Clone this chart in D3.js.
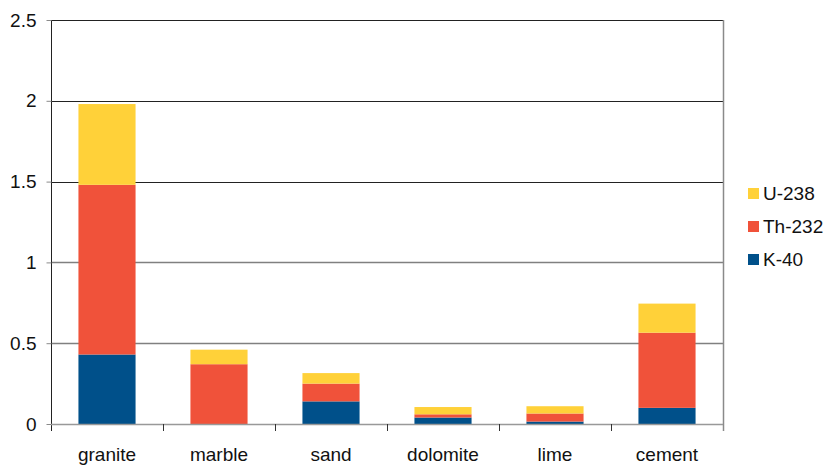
<!DOCTYPE html>
<html>
<head>
<meta charset="utf-8">
<script src="https://cdn.jsdelivr.net/npm/d3@7"></script>
<style>
  html, body { margin: 0; padding: 0; background: #fff; }
  svg { display: block; font-family: "Liberation Sans", Arial, sans-serif; }
</style>
</head>
<body>
<svg id="chart" width="825" height="466"></svg>
<script>
// Radioactivity contributions by building material
const categories = ["granite", "marble", "sand", "dolomite", "lime", "cement"];
const seriesNames = ["K-40", "Th-232", "U-238"];
const k40   = [0.43, 0.00, 0.14, 0.04, 0.015, 0.10];
const th232 = [1.05, 0.37, 0.11, 0.02, 0.05, 0.465];
const u238  = [0.50, 0.09, 0.065, 0.045, 0.045, 0.18];
const yTicks = [0, 0.5, 1, 1.5, 2, 2.5];
const colors = { "K-40": "#00508A", "Th-232": "#F0523A", "U-238": "#FFD139" };

const rows = categories.map((c, i) => ({
  category: c, "K-40": k40[i], "Th-232": th232[i], "U-238": u238[i]
}));

const svg = d3.select("#chart");
const margin = { left: 51, right: 825 - 723, top: 20, bottom: 466 - 424 };
const innerW = 825 - margin.left - margin.right;
const innerH = 466 - margin.top - margin.bottom;
const fontSize = 19;

const x = d3.scaleBand().domain(categories).range([margin.left, margin.left + innerW])
  .paddingInner(0.49).paddingOuter(0.245);
const xOuter = d3.scaleBand().domain(categories).range([margin.left, margin.left + innerW]).padding(0);
const y = d3.scaleLinear().domain([0, 2.5]).range([margin.top + innerH, margin.top]);

// horizontal grid lines
const g = svg.append("g");
g.selectAll("line.grid").data(yTicks.filter(t => t > 0)).join("line")
  .attr("class", "grid")
  .attr("x1", margin.left).attr("x2", margin.left + innerW)
  .attr("y1", d => Math.round(y(d)) + 0.5).attr("y2", d => Math.round(y(d)) + 0.5)
  .attr("stroke", d => d >= 1.5 ? "#222" : "#808080")
  .attr("stroke-width", d => d >= 1.5 ? 1 : 1.6);

// stacked bars
const stack = d3.stack().keys(seriesNames)(rows);
svg.append("g").selectAll("g").data(stack).join("g")
  .attr("fill", d => colors[d.key])
  .selectAll("rect").data(d => d).join("rect")
  .attr("x", d => x(d.data.category))
  .attr("width", x.bandwidth())
  .attr("y", d => y(d[1]))
  .attr("height", d => Math.max(0, y(d[0]) - y(d[1])));

// right border
svg.append("line")
  .attr("x1", margin.left + innerW + 0.5).attr("x2", margin.left + innerW + 0.5)
  .attr("y1", margin.top).attr("y2", margin.top + innerH + 7)
  .attr("stroke", "#8a8a8a").attr("stroke-width", 1.5);

// y axis
const yAxis = d3.axisLeft(y).tickValues(yTicks).tickSize(5).tickPadding(10)
  .tickFormat(d3.format("~g"));
const ya = svg.append("g").attr("transform", `translate(${margin.left + 0.5},0)`).call(yAxis);
ya.select(".domain").attr("stroke", "#222").attr("d", `M0,${margin.top}V${margin.top + innerH + 7}`);
ya.selectAll(".tick line").attr("stroke", "#8a8a8a");
ya.selectAll(".tick text").attr("font-size", fontSize).attr("fill", "#111")
  .attr("font-family", "Liberation Sans, Arial, sans-serif");

// x axis baseline and category separators
const xa = svg.append("g");
xa.append("line")
  .attr("x1", margin.left).attr("x2", margin.left + innerW)
  .attr("y1", y(0) + 0.5).attr("y2", y(0) + 0.5)
  .attr("stroke", "#999").attr("stroke-width", 1.5);
xa.selectAll("line.sep").data(categories.slice(1)).join("line")
  .attr("class", "sep")
  .attr("x1", d => xOuter(d) + 0.5).attr("x2", d => xOuter(d) + 0.5)
  .attr("y1", y(0)).attr("y2", y(0) + 7)
  .attr("stroke", "#333");
xa.selectAll("text").data(categories).join("text")
  .attr("x", d => x(d) + x.bandwidth() / 2)
  .attr("y", 461)
  .attr("text-anchor", "middle")
  .attr("font-size", fontSize).attr("fill", "#111")
  .text(d => d);

// legend
const legendOrder = ["U-238", "Th-232", "K-40"];
const lg = svg.append("g").attr("transform", "translate(748,188)");
const item = lg.selectAll("g").data(legendOrder).join("g")
  .attr("transform", (d, i) => `translate(0,${i * 33})`);
item.append("rect").attr("width", 11).attr("height", 11).attr("fill", d => colors[d]);
item.append("text").attr("x", 15).attr("y", 12)
  .attr("font-size", fontSize).attr("fill", "#111").text(d => d);
</script>
</body>
</html>
